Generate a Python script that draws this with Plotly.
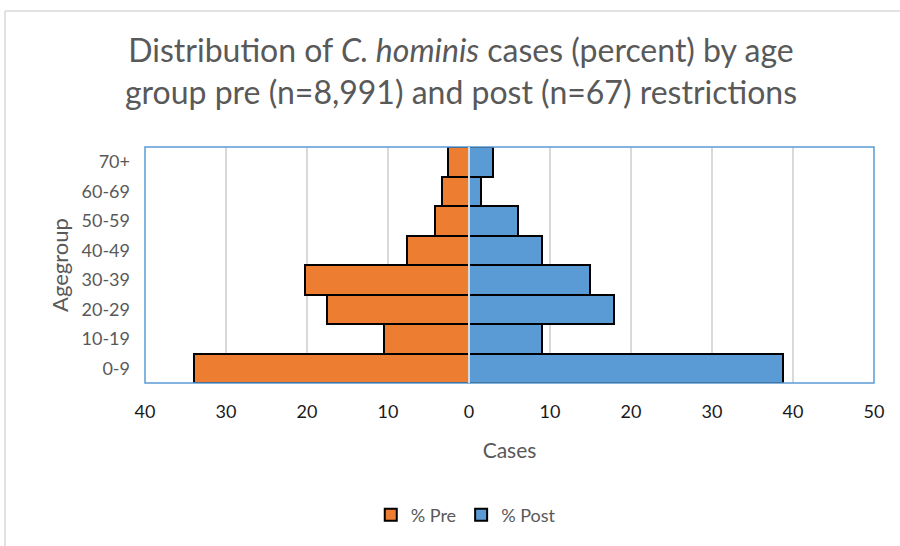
import plotly.graph_objects as go

age_groups = ["0-9", "10-19", "20-29", "30-39", "40-49", "50-59", "60-69", "70+"]
pct_pre = [33.9, 10.5, 17.5, 20.2, 7.7, 4.2, 3.3, 2.6]
pct_post = [38.8, 9.0, 17.9, 14.9, 9.0, 6.0, 1.5, 3.0]
tick_vals = [-40, -30, -20, -10, 0, 10, 20, 30, 40, 50]
tick_text = ["40", "30", "20", "10", "0", "10", "20", "30", "40", "50"]

FONT = "Lato, 'Open Sans', sans-serif"

fig = go.Figure()
fig.add_trace(go.Bar(
    y=age_groups, x=[-v for v in pct_pre], orientation="h", name="% Pre",
    marker=dict(color="#ED7D31", line=dict(color="#000000", width=2)),
))
fig.add_trace(go.Bar(
    y=age_groups, x=pct_post, orientation="h", name="% Post",
    marker=dict(color="#5B9BD5", line=dict(color="#000000", width=2)),
))

fig.update_layout(
    width=900, height=546,
    barmode="relative", bargap=0,
    paper_bgcolor="white", plot_bgcolor="white",
    font=dict(family=FONT, color="#595959"),
    margin=dict(l=145, r=26, t=147, b=163),
    title=dict(
        text="Distribution of <i>C. hominis</i> cases (percent) by age<br>group pre (n=8,991) and post (n=67) restrictions",
        x=461 / 900, xref="container", xanchor="center", y=1 - 62 / 546, yref="container", yanchor="top",
        font=dict(size=32, color="#595959", family=FONT),
    ),
    xaxis=dict(
        range=[-40, 50], tickvals=tick_vals, ticktext=tick_text,
        showgrid=True, gridcolor="#D9D9D9", gridwidth=1.5,
        zeroline=False, showline=False,
        tickfont=dict(size=18, color="#1a1a1a"), ticklabelstandoff=16,
        title=dict(text="Cases", font=dict(size=21, color="#595959"), standoff=22),
    ),
    yaxis=dict(
        categoryorder="array", categoryarray=age_groups,
        showgrid=False, zeroline=False, showline=False,
        tickfont=dict(size=18, color="#595959"), ticklabelstandoff=14,
        title=dict(text="Agegroup", font=dict(size=22, color="#595959"), standoff=6),
    ),
    legend=dict(
        orientation="h", x=0.44, xanchor="center", y=-0.56, yanchor="middle",
        font=dict(size=18, color="#595959"), traceorder="normal",
        itemwidth=30,
    ),
    shapes=[
        dict(type="rect", xref="paper", yref="paper", x0=0, x1=1, y0=0, y1=1,
             line=dict(color="#5B9BD5", width=1.5), layer="above"),
        dict(type="line", xref="x", yref="paper", x0=0, x1=0, y0=0, y1=1,
             line=dict(color="#D9D9D9", width=2), layer="above"),
    ],
)

# outer chart border (top and left edges visible)
top_y = (546 - 11 - 163) / 236
left_x = (5 - 145) / 729
fig.add_shape(type="line", xref="paper", yref="paper",
              x0=left_x, x1=(900 - 145) / 729, y0=top_y, y1=top_y,
              line=dict(color="#D9D9D9", width=1.5))
fig.add_shape(type="line", xref="paper", yref="paper",
              x0=left_x, x1=left_x, y0=top_y, y1=-163 / 236,
              line=dict(color="#D9D9D9", width=1.5))

fig.write_html("out.html", config={"displayModeBar": False},
               post_script="document.body.style.margin='0';")
